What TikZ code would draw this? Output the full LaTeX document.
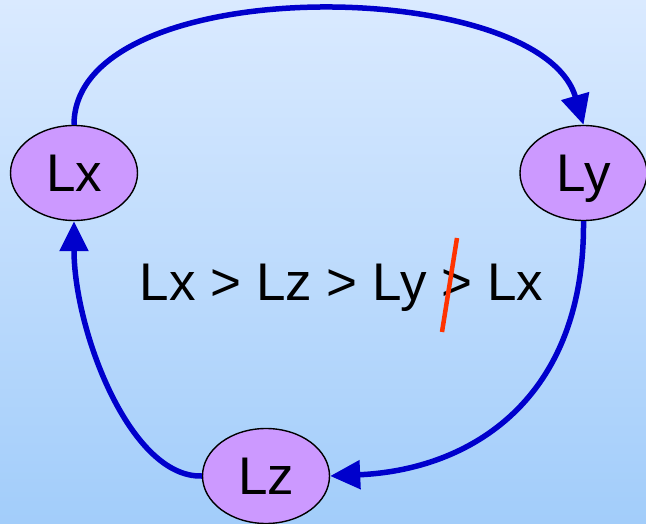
\documentclass[tikz,border=0pt]{standalone}
\usepackage{fontspec}
\setmainfont{Liberation Sans}
\usetikzlibrary{arrows.meta,shapes.geometric}
\definecolor{bgtop}{RGB}{218,234,255}
\definecolor{bgbot}{RGB}{162,205,250}
\definecolor{nodefill}{RGB}{204,153,255}
\definecolor{arrowblue}{RGB}{0,0,204}
\definecolor{slashred}{RGB}{255,51,0}
\begin{document}
\begin{tikzpicture}[x=1pt,y=-1pt,
  lnode/.style={ellipse,draw=black,line width=1.4pt,fill=nodefill,
    minimum width=127pt,minimum height=95pt,inner sep=0pt,
    text depth=0pt,font=\fontsize{53}{60}\selectfont},
  flow/.style={draw=arrowblue,line width=5.5pt,
    -{Triangle[length=30pt,width=28pt]}},
  caption/.style={anchor=base,inner sep=0pt,font=\fontsize{53}{60}\selectfont}]
\path[use as bounding box] (0,0) rectangle (646,524);
\shade[top color=bgtop,bottom color=bgbot] (0,0) rectangle (646,524);
\node[lnode] (lx) at (74,173) {Lx};
\node[lnode] (ly) at (583.5,173) {Ly};
\node[lnode] (lz) at (266,476) {Lz};
\node[caption] (cap) at (341.5,301) {Lx > Lz > Ly > Lx};
\draw[slashred,line width=4.5pt] (457,238) -- (442,332);
\draw[flow] (lx.north) .. controls (74,-30) and (540,-25) .. (ly.north);
\draw[flow] (ly.south) .. controls (585,400) and (470,470) .. (lz.east);
\draw[flow] (lz.west) .. controls (130,478) and (74,330) .. (lx.south);
\end{tikzpicture}
\end{document}
